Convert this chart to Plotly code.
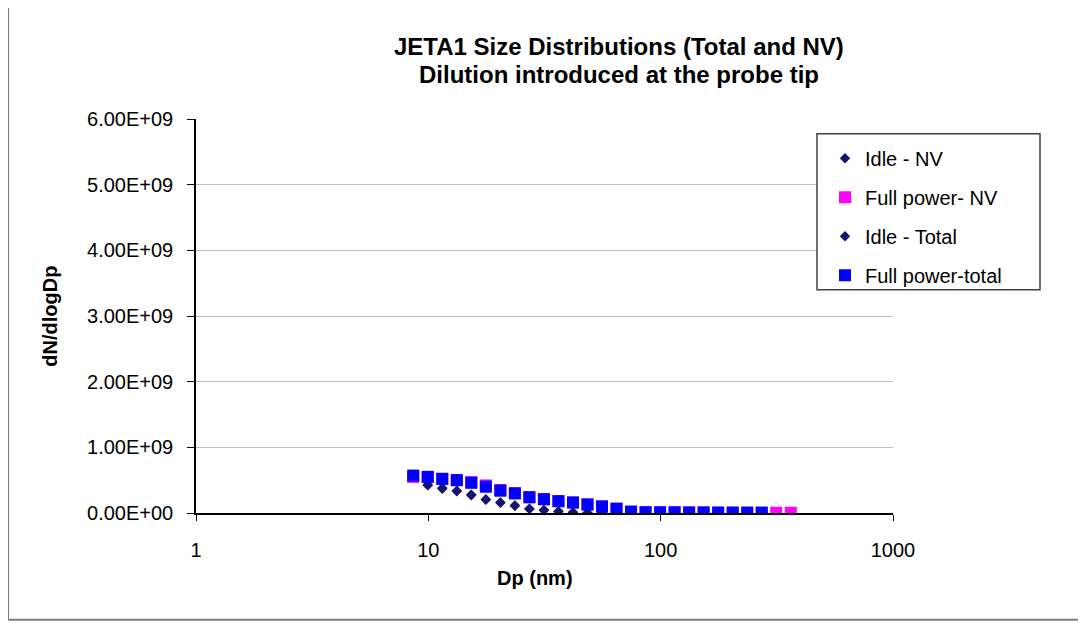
import plotly.graph_objects as go

# Particle diameters (nm)
dp = [8.61, 9.94, 11.48, 13.26, 15.31, 17.68, 20.42, 23.58, 27.23, 31.44,
      36.31, 41.93, 48.42, 55.91, 64.57, 74.56, 86.10, 99.43, 114.8, 132.6,
      153.1, 176.8, 204.2, 235.8, 272.3, 314.4, 363.1]

# dN/dlogDp values
full_total = [5.7e8, 5.5e8, 5.2e8, 5.0e8, 4.6e8, 4.0e8, 3.4e8, 3.0e8, 2.4e8, 2.1e8,
              1.8e8, 1.6e8, 1.3e8, 1.0e8, 6.5e7, 2.0e7, 1.2e7, 1.0e7, 1.0e7, 8e6,
              8e6, 6e6, 6e6, 5e6, 5e6]
full_nv = [5.5e8, 5.5e8, 5.2e8, 5.0e8, 4.7e8, 4.2e8, 3.5e8, 3.0e8, 2.4e8, 2.1e8,
           1.8e8, 1.6e8, 1.3e8, 1.0e8, 6.5e7, 2.0e7, 1.2e7, 1.0e7, 1.0e7, 8e6,
           8e6, 6e6, 6e6, 5e6, 5e6, 4e6, 4e6]
idle_total = [4.3e8, 3.8e8, 3.4e8, 2.8e8, 2.1e8, 1.6e8, 1.15e8, 6.5e7, 4.5e7, 2.5e7,
              1.0e7, 2e6, 1e6, 1e6, 1e6, 1e6, 0, 0, 0, 0, 0, 0, 0, 0]
idle_nv = [4.2e8, 3.7e8, 3.3e8, 2.7e8, 2.0e8, 1.55e8, 1.1e8, 6.0e7, 4.0e7, 2.0e7,
           8e6, 1e6, 0, 0, 0, 0, 0, 0, 0, 0, 0, 0, 0, 0]

ytick_vals = [0, 1e9, 2e9, 3e9, 4e9, 5e9, 6e9]
ytick_text = ["0.00E+00", "1.00E+09", "2.00E+09", "3.00E+09", "4.00E+09", "5.00E+09", "6.00E+09"]
xtick_vals = [1, 10, 100, 1000]
xtick_text = ["1", "10", "100", "1000"]

NAVY = "#14146e"
PINK = "#ff00ff"
BLUE = "#0000ff"
FONT = "Liberation Sans, Arial, sans-serif"

fig = go.Figure()
fig.add_trace(go.Scatter(x=dp[1:25], y=idle_nv, mode="markers", name="Idle - NV",
                         legendgroup="a",
                         marker=dict(symbol="diamond", size=8, color=NAVY)))
fig.add_trace(go.Scatter(x=dp, y=full_nv, mode="markers", name="Full power- NV",
                         legendgroup="b",
                         marker=dict(symbol="square", size=12, color=PINK)))
fig.add_trace(go.Scatter(x=dp[1:25], y=idle_total, mode="markers", name="Idle - Total",
                         legendgroup="c",
                         marker=dict(symbol="diamond", size=8, color=NAVY)))
fig.add_trace(go.Scatter(x=dp[:25], y=full_total, mode="markers", name="Full power-total",
                         legendgroup="d",
                         marker=dict(symbol="square", size=12, color=BLUE)))

# page-pixel geometry of the plot area (page has an 8px body margin)
OFF = 8
L, R, T, B = 196, 893, 119.3, 513.3
W, H = R - L, B - T
FW, FH = 1086 - OFF, 623 - OFF

def px(xp):
    return (xp - L) / W

def py(yp):
    return (B - yp) / H

fig.update_layout(
    width=FW, height=FH,
    margin=dict(l=L - OFF, r=FW - (R - OFF), t=T - OFF, b=FH - (B - OFF), autoexpand=False),
    paper_bgcolor="white", plot_bgcolor="white",
    font=dict(family=FONT, color="black", size=20),
    showlegend=True,
    legend=dict(x=px(825), y=py(139), xanchor="left", yanchor="top",
                bgcolor="rgba(0,0,0,0)", borderwidth=0,
                font=dict(size=20), tracegroupgap=10, itemsizing="trace"),
    xaxis=dict(type="log", range=[0, 3], tickvals=xtick_vals, ticktext=xtick_text,
               showgrid=False, showline=True, linecolor="black", linewidth=1.5,
               ticks="outside", ticklen=6, tickcolor="black", ticklabelstandoff=12,
               zeroline=False, tickfont=dict(size=20)),
    yaxis=dict(range=[0, 6e9], tickvals=ytick_vals, ticktext=ytick_text,
               showgrid=True, gridcolor="#bdbdbd", gridwidth=1,
               showline=True, linecolor="black", linewidth=1.5,
               ticks="outside", ticklen=7, tickcolor="black", ticklabelstandoff=10,
               zeroline=False, tickfont=dict(size=20)),
    shapes=[
        dict(type="rect", xref="paper", yref="paper",
             x0=px(8), x1=px(1081), y0=py(620), y1=py(7),
             line=dict(color="#7f7f7f", width=2), fillcolor="rgba(0,0,0,0)", layer="below"),
        dict(type="rect", xref="paper", yref="paper",
             x0=px(817), x1=px(1040), y0=py(290), y1=py(134),
             line=dict(color="#404040", width=1.5), fillcolor="white", layer="above"),
    ],
    annotations=[
        dict(text="<b>JETA1 Size Distributions (Total and NV)</b>", xref="paper", yref="paper",
             x=px(619), y=py(47), xanchor="center", yanchor="middle", showarrow=False,
             font=dict(size=24, family=FONT)),
        dict(text="<b>Dilution introduced at the probe tip</b>", xref="paper", yref="paper",
             x=px(619), y=py(75), xanchor="center", yanchor="middle", showarrow=False,
             font=dict(size=24, family=FONT)),
        dict(text="<b>Dp (nm)</b>", xref="paper", yref="paper",
             x=px(535), y=py(578), xanchor="center", yanchor="middle", showarrow=False,
             font=dict(size=20, family=FONT)),
        dict(text="<b>dN/dlogDp</b>", xref="paper", yref="paper",
             x=px(50), y=py(317), xanchor="center", yanchor="middle", showarrow=False,
             textangle=-90, font=dict(size=20, family=FONT)),
    ],
)

fig.write_html("out.html")
